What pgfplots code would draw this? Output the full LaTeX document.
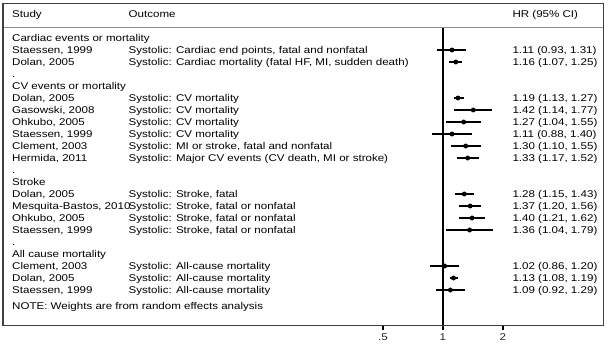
\documentclass[border=0pt]{standalone}
\usepackage{pgfplots}
\pgfplotsset{compat=1.18}
\usepackage{fontspec}
\setmainfont{Liberation Sans}[FakeStretch=1.18]
\newcommand{\fnt}{\fontsize{9.8bp}{11bp}\selectfont}
\newcommand{\T}[3]{\node[anchor=base west, inner sep=0pt] at (#1,{17.5+12*#2}) {#3};}
\newcommand{\R}[4]{\T{12}{#1}{#2}\T{128.5}{#1}{#3}\T{512.3}{#1}{#4}}
\begin{document}
\begin{tikzpicture}[font=\fnt]
\begin{axis}[
  scale only axis, width=600bp, height=322bp,
  xmode=log, log basis x=2,
  xmin=0.006216, xmax=6.3496,
  ymin=-0.9167, ymax=25.9167, y dir=reverse,
  ytick=\empty,
  xtick={0.5,1,2}, xticklabels={.5,1,2},
  xtick pos=bottom, tick align=outside, major tick length=5bp,
  tick style={black, line width=1.2bp},
  axis line style={draw=black!75, line width=1bp},
  ticklabel style={font=\fnt, text=black!85},
  /pgf/number format/assume math mode=true,
  clip=false,
]
% reference line at HR = 1
\draw[black, line width=1.3bp] (axis cs:1,1.083) -- (axis cs:1,25.9167);
% confidence intervals
\addplot[black, line width=1.6bp, unbounded coords=jump] coordinates {
 (0.93,3) (1.31,3) (nan,nan)
 (1.07,4) (1.25,4) (nan,nan)
 (1.13,7) (1.27,7) (nan,nan)
 (1.14,8) (1.77,8) (nan,nan)
 (1.04,9) (1.55,9) (nan,nan)
 (0.88,10) (1.40,10) (nan,nan)
 (1.10,11) (1.55,11) (nan,nan)
 (1.17,12) (1.52,12) (nan,nan)
 (1.15,15) (1.43,15) (nan,nan)
 (1.20,16) (1.56,16) (nan,nan)
 (1.21,17) (1.62,17) (nan,nan)
 (1.04,18) (1.79,18) (nan,nan)
 (0.86,21) (1.20,21) (nan,nan)
 (1.08,22) (1.19,22) (nan,nan)
 (0.92,23) (1.29,23)
};
% point estimates
\addplot[only marks, mark=*, mark size=2.2bp, black] table[x=hr, y=row] {
row hr
3 1.11
4 1.16
7 1.19
8 1.42
9 1.27
10 1.11
11 1.30
12 1.33
15 1.28
16 1.37
17 1.40
18 1.36
21 1.02
22 1.13
23 1.09
};
\end{axis}
\begin{scope}[shift={(current axis.north west)}, xshift=-3bp, yshift=3bp, x=1bp, y=-1bp]
\path (0,0) rectangle (612,353);
\draw[black!45, line width=0.8bp] (3,27) -- (603,27);
\draw[black!75, line width=1bp] (3.3,3) -- (3.3,325);
\T{12}{0}{Study}\T{128.5}{0}{Outcome}\T{512.3}{0}{HR (95\% CI)}
\T{12}{2}{Cardiac events or mortality}
\R{3}{Staessen, 1999}{Systolic: Cardiac end points, fatal and nonfatal}{1.11 (0.93, 1.31)}
\R{4}{Dolan, 2005}{Systolic: Cardiac mortality (fatal HF, MI, sudden death)}{1.16 (1.07, 1.25)}
\T{12}{5}{.}
\T{12}{6}{CV events or mortality}
\R{7}{Dolan, 2005}{Systolic: CV mortality}{1.19 (1.13, 1.27)}
\R{8}{Gasowski, 2008}{Systolic: CV mortality}{1.42 (1.14, 1.77)}
\R{9}{Ohkubo, 2005}{Systolic: CV mortality}{1.27 (1.04, 1.55)}
\R{10}{Staessen, 1999}{Systolic: CV mortality}{1.11 (0.88, 1.40)}
\R{11}{Clement, 2003}{Systolic: MI or stroke, fatal and nonfatal}{1.30 (1.10, 1.55)}
\R{12}{Hermida, 2011}{Systolic: Major CV events (CV death, MI or stroke)}{1.33 (1.17, 1.52)}
\T{12}{13}{.}
\T{12}{14}{Stroke}
\R{15}{Dolan, 2005}{Systolic: Stroke, fatal}{1.28 (1.15, 1.43)}
\R{16}{Mesquita-Bastos, 2010}{Systolic: Stroke, fatal or nonfatal}{1.37 (1.20, 1.56)}
\R{17}{Ohkubo, 2005}{Systolic: Stroke, fatal or nonfatal}{1.40 (1.21, 1.62)}
\R{18}{Staessen, 1999}{Systolic: Stroke, fatal or nonfatal}{1.36 (1.04, 1.79)}
\T{12}{19}{.}
\T{12}{20}{All cause mortality}
\R{21}{Clement, 2003}{Systolic: All-cause mortality}{1.02 (0.86, 1.20)}
\R{22}{Dolan, 2005}{Systolic: All-cause mortality}{1.13 (1.08, 1.19)}
\R{23}{Staessen, 1999}{Systolic: All-cause mortality}{1.09 (0.92, 1.29)}
\T{12}{24.3}{NOTE: Weights are from random effects analysis}
\end{scope}
\end{tikzpicture}
\end{document}
